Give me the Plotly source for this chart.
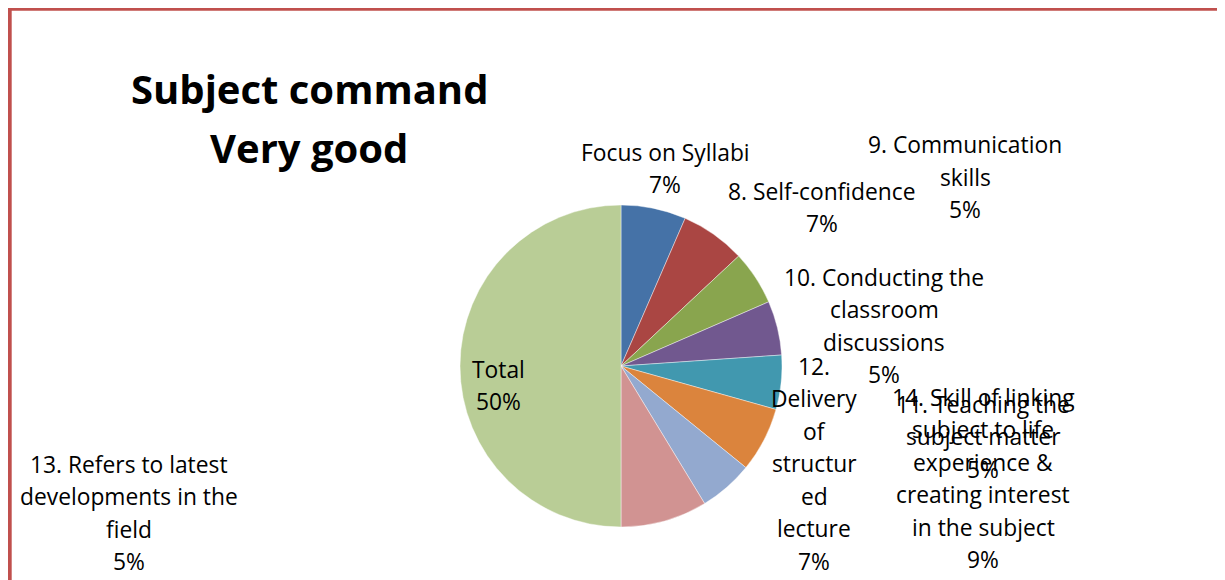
import plotly.graph_objects as go

# ---- data ----
categories = [
    "Focus on Syllabi",
    "8. Self-confidence",
    "9. Communication skills",
    "10. Conducting the classroom discussions",
    "11. Teaching the subject matter",
    "12. Delivery of structured lecture",
    "13. Refers to latest developments in the field",
    "14. Skill of linking subject to life experience & creating interest in the subject",
    "Total",
]
values = [12, 12, 10, 10, 10, 12, 10, 16, 92]
# label text as wrapped in the chart
wrapped_labels = [
    ["Focus on Syllabi"],
    ["8. Self-confidence"],
    ["9. Communication", "skills"],
    ["10. Conducting the", "classroom", "discussions"],
    ["11. Teaching the", "subject matter"],
    ["12.", "Delivery", "of", "structur", "ed", "lecture"],
    ["13. Refers to latest", "developments in the", "field"],
    ["14. Skill of linking", "subject to life", "experience &", "creating interest", "in the subject"],
    ["Total"],
]
colors = ["#4572A7", "#AA4643", "#89A54E", "#71588F", "#4198AF",
          "#DB843D", "#93A9CF", "#D19392", "#B9CD96"]
title_lines = ["Subject command", "Very good"]

# ---- layout constants ----
W, H = 1225, 580
OFF = 8  # page body margin
cx, cy, r = 621 - OFF, 366 - OFF, 161
# label anchor (center x, first line y) in pixels (page coords)
label_pos = [(665, 152), (822, 191), (965, 145), (884, 277), (983, 404),
             (814, 366), (129, 464), (983, 397), (498, 369)]
LINE = 32.5
FONT = "Open Sans, Lato, sans-serif"

fig = go.Figure(go.Pie(
    labels=categories,
    values=values,
    sort=False,
    direction="clockwise",
    rotation=0,
    marker=dict(colors=colors, line=dict(color="rgba(255,255,255,0.6)", width=0.7)),
    textinfo="none",
    hoverinfo="label+percent",
    showlegend=False,
    domain=dict(x=[(cx - r) / W, (cx + r) / W],
                y=[(H - cy - r) / H, (H - cy + r) / H]),
))

total = sum(values)
annotations = []
for (x, y), lines, v in zip(label_pos, wrapped_labels, values):
    pct = f"{round(v / total * 100)}%"
    for i, t in enumerate(lines + [pct]):
        annotations.append(dict(
            x=(x - OFF) / W, y=1 - (y - OFF + i * LINE) / H, xref="paper", yref="paper",
            text=t, showarrow=False, xanchor="center", yanchor="middle",
            font=dict(family=FONT, size=22.8, color="#000000"),
        ))

for i, t in enumerate(title_lines):
    annotations.append(dict(
        x=(309 - OFF) / W, y=1 - (88 - OFF + i * 59) / H, xref="paper", yref="paper",
        text=f"<b>{t}</b>", showarrow=False, xanchor="center", yanchor="middle",
        font=dict(family=FONT, size=40, color="#000000"),
    ))

fig.update_layout(
    width=W, height=H,
    margin=dict(l=0, r=0, t=0, b=0),
    paper_bgcolor="white", plot_bgcolor="white",
    annotations=annotations,
    shapes=[
        dict(type="line", xref="paper", yref="paper", x0=(7 - OFF) / W, x1=1.02,
             y0=1 - (8.7 - OFF) / H, y1=1 - (8.7 - OFF) / H,
             line=dict(color="#C0504D", width=4)),
        dict(type="line", xref="paper", yref="paper", x0=(9.7 - OFF) / W, x1=(9.7 - OFF) / W,
             y0=1 - (7 - OFF) / H, y1=-0.02, line=dict(color="#C0504D", width=4)),
    ],
)

fig.write_html("out.html")
